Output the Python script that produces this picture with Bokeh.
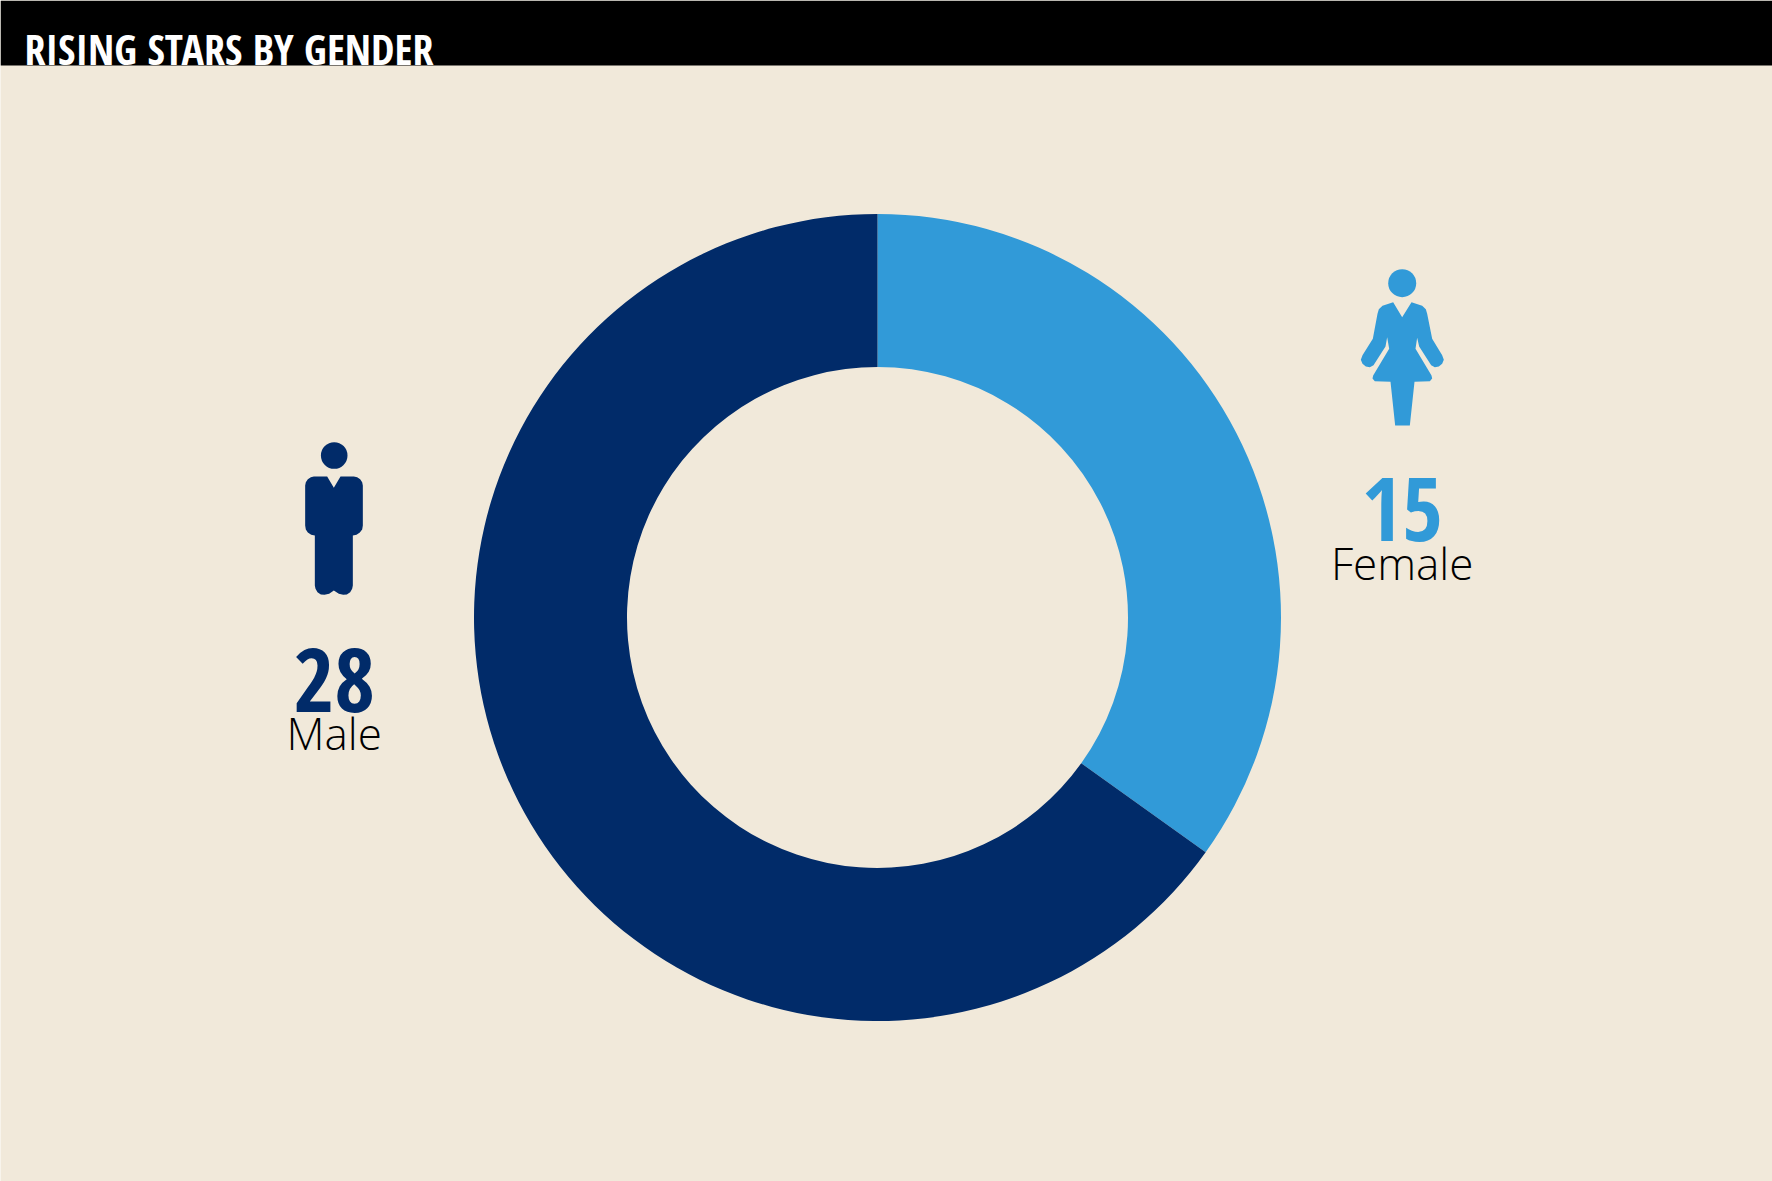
import math
from bokeh.plotting import figure
from bokeh.models import ColumnDataSource
from bokeh.core.properties import value
from bokeh.embed import file_html
from bokeh.resources import INLINE

title = "RISING STARS BY GENDER"
categories = ["Male", "Female"]
counts = [28, 15]
colors = ["#012B69", "#319AD8"]
BG = "#F1E9DA"
W, H = 1772, 1181
CX, CY, R_OUT, R_IN = 877, 617, 403.5, 250.5

def Y(y):
    return H - y

p = figure(width=W, height=H, x_range=(0, W), y_range=(0, H), toolbar_location=None,
           output_backend="svg", min_border=0, outline_line_color=None,
           background_fill_color=BG, border_fill_color=BG)
p.axis.visible = False
p.grid.visible = False

# header
p.quad(left=[0], right=[W], top=[H], bottom=[H - 65], fill_color="black", line_color=None)
p.text(x=[24], y=[Y(48)], text=[title], text_color="white", text_font=value("Open Sans Condensed"),
       text_font_style="bold", text_font_size="42px", text_baseline="alphabetic", text_align="left")

# donut: clockwise from 12 o'clock, Female first
total = sum(counts)
female_end = math.pi / 2 - 2 * math.pi * counts[1] / total
src = ColumnDataSource(dict(
    x=[CX, CX], y=[Y(CY), Y(CY)], start=[math.pi / 2, female_end],
    end=[female_end, math.pi / 2 - 2 * math.pi], color=[colors[1], colors[0]]))
p.annular_wedge(x="x", y="y", inner_radius=R_IN, outer_radius=R_OUT, start_angle="start", end_angle="end",
                direction="clock", fill_color="color", line_color=None, source=src)

# icons (zoomed outline coords -> page pixels)
female_pts = [(218,155),(245,200),(273,155),(305,166),(316,176),(320,190),(335,265),(365,314),(370,328),(365,340),
              (355,348),(343,350),(332,344),(296,288),(290,262),(285,295),(333,375),(335,384),(328,392),(282,394),(268,525),(224,525),(210,394),
              (163,392),(156,384),(158,375),(206,295),(200,260),(195,288),(159,344),(148,350),(136,348),(126,340),(121,328),(126,314),
              (157,265),(171,190),(175,176),(186,166)]
male_pts = [(170,153),(190,187),(210,153),(250,153),(260,155),(269,161),(275,170),(277,180),(277,300),(275,312),(268,321),(258,328),
            (247,330),(247,480),(245,490),(239,500),(229,507),(218,508),(205,505),(190,495),(176,505),(162,508),(151,507),(141,500),(135,490),
            (133,480),(133,330),(122,328),(112,321),(106,312),(104,300),(104,180),(106,170),(112,161),(121,155),(130,153)]
def conv(pts, ox, oy):
    return [ox + a / 3 for a, _ in pts], [Y(oy + b / 3) for _, b in pts]

fx, fy = conv(female_pts, 1320, 250)
mx, my = conv(male_pts, 270, 425)
p.patch(fx, fy, fill_color=colors[1], line_color=None)
p.patch(mx, my, fill_color=colors[0], line_color=None)
p.circle(x=[1401.7], y=[Y(282.7)], radius=14, fill_color=colors[1], line_color=None)
p.circle(x=[333.7], y=[Y(455)], radius=13.3, fill_color=colors[0], line_color=None)

# labels
for cx, num_y, lab_y, n, lab, col in [(333.7, 679, 732, counts[0], categories[0], colors[0]),
                                      (1401.7, 508, 562, counts[1], categories[1], colors[1])]:
    p.text(x=[cx], y=[Y(num_y)], text=[str(n)], text_color=col, text_font=value("Open Sans Condensed"),
           text_font_style="bold", text_font_size="88px", text_align="center", text_baseline="alphabetic")
    p.text(x=[cx], y=[Y(lab_y)], text=[lab], text_color="black", text_font=value("Open Sans Light"),
           text_font_size="44px", text_align="center", text_baseline="alphabetic")

open("out.html", "w").write(file_html(p, INLINE))
